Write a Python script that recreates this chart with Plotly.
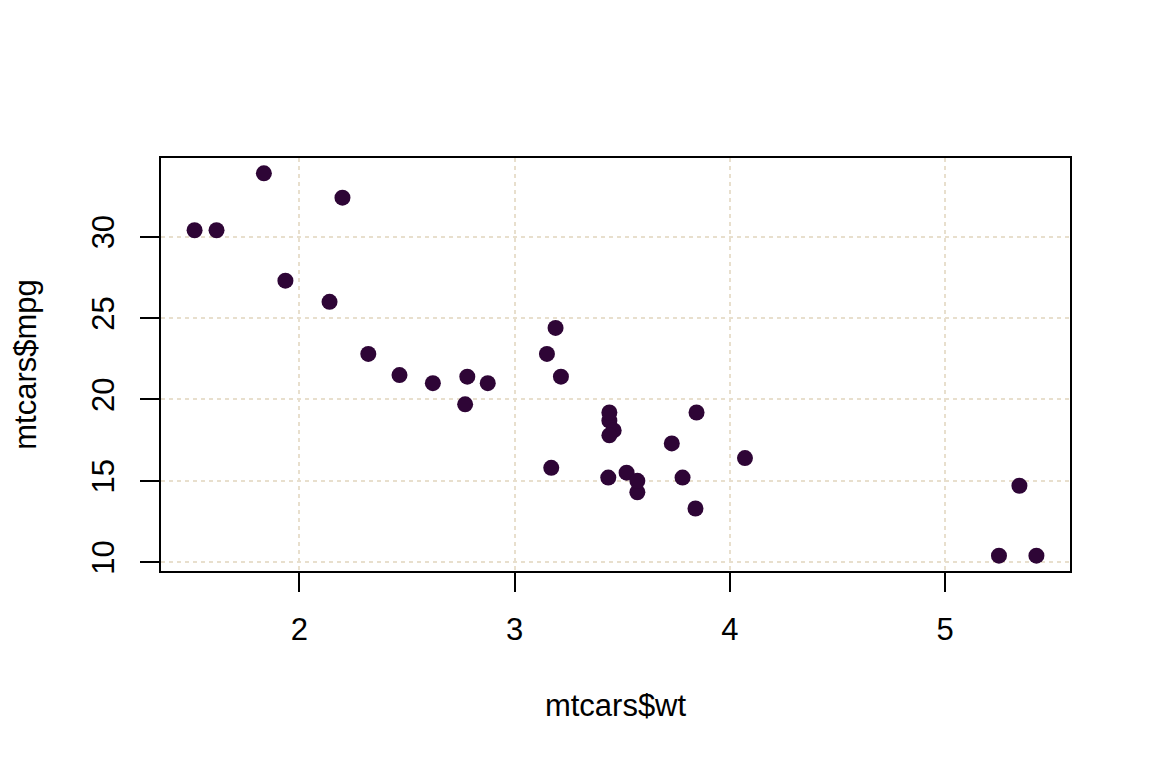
import plotly.graph_objects as go

# mtcars: weight (1000 lbs) vs miles per gallon
wt = [2.620, 2.875, 2.320, 3.215, 3.440, 3.460, 3.570, 3.190, 3.150, 3.440, 3.440,
      4.070, 3.730, 3.780, 5.250, 5.424, 5.345, 2.200, 1.615, 1.835, 2.465, 3.520,
      3.435, 3.840, 3.845, 1.935, 2.140, 1.513, 3.170, 2.770, 3.570, 2.780]
mpg = [21.0, 21.0, 22.8, 21.4, 18.7, 18.1, 14.3, 24.4, 22.8, 19.2, 17.8,
       16.4, 17.3, 15.2, 10.4, 10.4, 14.7, 32.4, 30.4, 33.9, 21.5, 15.5,
       15.2, 13.3, 19.2, 27.3, 26.0, 30.4, 15.8, 19.7, 15.0, 21.4]

x_ticks = [2, 3, 4, 5]
y_ticks = [10, 15, 20, 25, 30]

font = dict(family="Liberation Sans, Arial, Helvetica, sans-serif", size=31, color="black")
grid_col = "#E8DFCD"

fig = go.Figure()
fig.add_trace(go.Scatter(
    x=wt, y=mpg, mode="markers",
    marker=dict(color="#2E0536", size=16, line=dict(width=0)),
    showlegend=False,
))

# page body adds ~8px offset, margins compensate
fig.update_layout(
    width=1152, height=768,
    margin=dict(l=146, r=90, t=150, b=205),
    paper_bgcolor="white", plot_bgcolor="white",
    font=font,
    xaxis=dict(
        range=[1.357, 5.580], tickvals=x_ticks, ticktext=[str(v) for v in x_ticks],
        showline=True, linecolor="black", linewidth=2, mirror=True,
        ticks="outside", ticklen=19, tickwidth=2, tickcolor="black",
        ticklabelstandoff=11,
        showgrid=True, gridcolor=grid_col, gridwidth=1.5, griddash="4px,4px",
        zeroline=False,
        title=dict(text="mtcars$wt", font=font, standoff=48),
    ),
    yaxis=dict(
        range=[9.46, 34.84], tickvals=y_ticks, ticktext=[str(v) for v in y_ticks],
        tickangle=-90,
        showline=True, linecolor="black", linewidth=2, mirror=True,
        ticks="outside", ticklen=19, tickwidth=2, tickcolor="black",
        ticklabelstandoff=14,
        showgrid=True, gridcolor=grid_col, gridwidth=1.5, griddash="4px,4px",
        zeroline=False,
        title=dict(text="mtcars$mpg", font=font, standoff=44),
    ),
)

fig.write_html("out.html")
